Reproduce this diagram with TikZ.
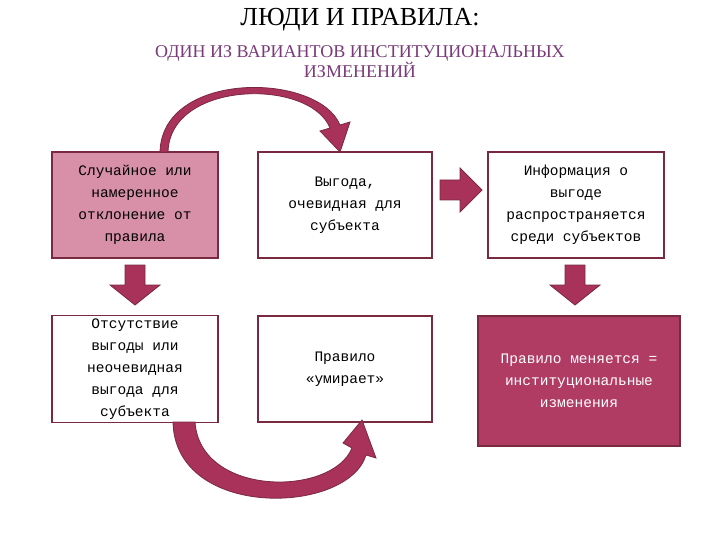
\documentclass[tikz,border=0pt]{standalone}
\usepackage{fontspec}
\setmainfont{Liberation Serif}
\newfontfamily\boxfont{Liberation Mono}
\definecolor{bord}{HTML}{7A2A40}
\definecolor{arr}{HTML}{A8325A}
\definecolor{pinkf}{HTML}{D890A8}
\definecolor{darkf}{HTML}{B03C64}
\definecolor{subc}{HTML}{7A3A7A}
\begin{document}
\begin{tikzpicture}[x=1pt,y=-1pt,
 box/.style={draw=bord,line width=1.2pt,minimum width=166pt,minimum height=106pt,align=center,font=\boxfont\fontsize{14.5}{22}\selectfont},
 blk/.style={fill=arr,draw=bord,line width=0.8pt}]
\useasboundingbox (0,0) rectangle (720,540);
\node (t1) at (360,20) {\fontsize{26}{30}\selectfont ЛЮДИ И ПРАВИЛА:};
\node[align=center,text=subc] (t2) at (360,62) {\fontsize{18}{24}\selectfont ОДИН ИЗ ВАРИАНТОВ ИНСТИТУЦИОНАЛЬНЫХ\\ \fontsize{18}{24}\selectfont ИЗМЕНЕНИЙ};
\node[box,fill=pinkf] (b1) at (135,205) {Случайное или\\намеренное\\отклонение от\\правила};
\node[box,minimum width=174pt] (b2) at (345,205) {Выгода,\\очевидная для\\субъекта};
\node[box,minimum width=176pt] (b3) at (576,205) {Информация о\\выгоде\\распространяется\\среди субъектов};
\node[box] (b4) at (135,369) {Отсутствие\\выгоды или\\неочевидная\\выгода для\\субъекта};
\node[box,minimum width=174pt] (b5) at (345,369) {Правило\\«умирает»};
\node[box,fill=darkf,text=white,minimum width=202pt,minimum height=130pt] (b6) at (579,381) {Правило меняется =\\институциональные\\изменения};
% down arrows
\draw[blk] (125,265) -- (145,265) -- (145,285) -- (160,285) -- (135,305) -- (110,285) -- (125,285) -- cycle;
\draw[blk] (565,265) -- (585,265) -- (585,285) -- (600,285) -- (575,305) -- (550,285) -- (565,285) -- cycle;
% right arrow
\draw[blk] (440,180) -- (460,180) -- (460,168) -- (482,190) -- (460,212) -- (460,200) -- (440,200) -- cycle;
% top curved arrow
\draw[blk] (168,152) .. controls (170,80) and (310,78) .. (330,128) -- (320,131) -- (340,152) -- (350,122) -- (340,125) .. controls (318,72) and (162,70) .. (160,152) -- cycle;
% bottom curved arrow
\draw[blk] (173,422) .. controls (175,520) and (348,515) .. (366,455) -- (376,458) -- (362,420) -- (343,443) -- (352,448) .. controls (332,497) and (200,497) .. (195,422) -- cycle;
\end{tikzpicture}
\end{document}
